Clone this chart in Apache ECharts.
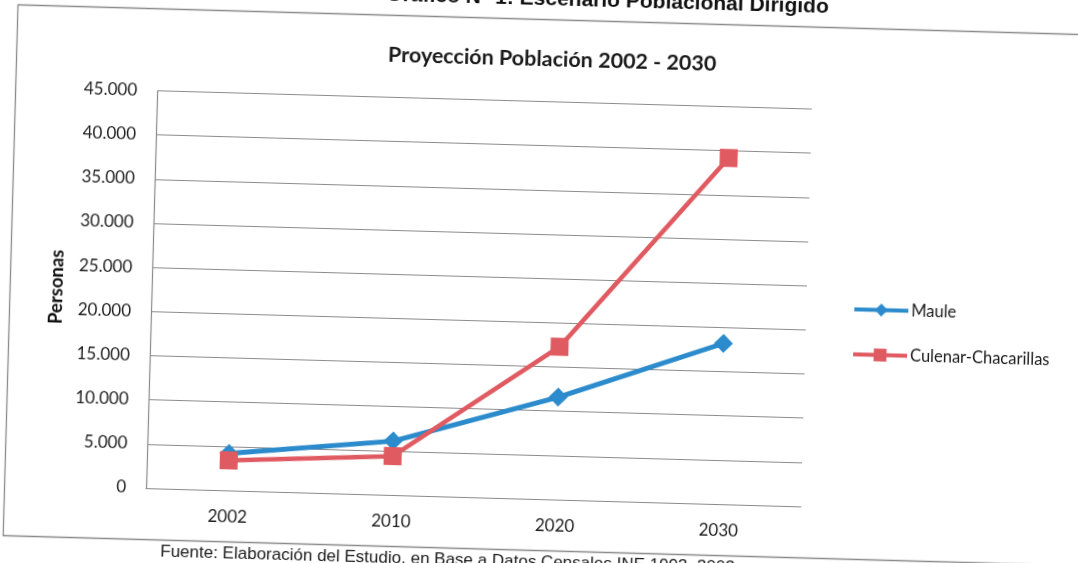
<!DOCTYPE html>
<html><head><meta charset="utf-8">
<script src="https://cdn.jsdelivr.net/npm/echarts@6/dist/echarts.min.js"></script>
<style>
html,body{margin:0;padding:0;background:#fff;overflow:hidden;width:1078px;height:563px;}
#chart{position:absolute;left:-20px;top:-20px;width:1118px;height:603px;transform:rotate(1.6deg);transform-origin:559px 301.5px;}
</style></head><body><div id="chart"></div>
<script>
const categories = ['2002', '2010', '2020', '2030'];
const mauleValues = [4200, 6100, 11600, 18200];
const culenarValues = [3400, 4400, 17300, 39200];
const seriesNames = ['Maule', 'Culenar-Chacarillas'];
const yMin = 0, yMax = 45000, yStep = 5000;
const chartTitle = 'Proyección Población 2002 - 2030';
const yAxisName = 'Personas';
const headingText = 'Gráfico N° 1: Escenario Poblacional Dirigido';
const sourceText = 'Fuente: Elaboración del Estudio, en Base a Datos Censales INE 1992, 2002';

function fmt(v) { return String(v).replace(/\B(?=(\d{3})+(?!\d))/g, '.'); }

const chart = echarts.init(document.getElementById('chart'), null, {renderer: 'canvas'});
chart.setOption({
  backgroundColor: '#ffffff',
  animation: false,
  title: {
    text: chartTitle, left: 561, top: 63, textAlign: 'center',
    textStyle: {fontFamily: 'Lato', fontWeight: 'bold', fontSize: 21.5, color: '#1a1a1a'}
  },
  graphic: [
    {type: 'rect', shape: {x: 30.5, y: 39.5, width: 1085, height: 531}, style: {fill: 'none', stroke: '#8a8a8a', lineWidth: 1.3}, silent: true, z: -1},
    {type: 'text', x: 841, y: 30, style: {text: headingText, textAlign: 'right', textVerticalAlign: 'bottom', font: 'bold 21px "Liberation Sans", Arial, sans-serif', fill: '#111'}},
    {type: 'text', x: 188, y: 582, style: {text: sourceText, textAlign: 'left', textVerticalAlign: 'middle', font: '17px "Liberation Sans", Arial, sans-serif', fill: '#1a1a1a'}}
  ],
  legend: {
    orient: 'vertical', left: 868, top: 307, itemGap: 28, itemWidth: 54, itemHeight: 16,
    data: seriesNames,
    lineStyle: {width: 4},
    textStyle: {fontFamily: 'Lato', fontSize: 16.5, color: '#1a1a1a', padding: [0, 0, 0, -2]}
  },
  grid: {left: 172, top: 121.5, width: 655, height: 397.5, containLabel: false},
  xAxis: {
    type: 'category', data: categories, boundaryGap: true,
    axisLine: {lineStyle: {color: '#8a8a8a', width: 1.2}},
    axisTick: {show: false},
    axisLabel: {margin: 18, fontFamily: 'Lato', fontSize: 17, color: '#1e1e1e'}
  },
  yAxis: {
    type: 'value', min: yMin, max: yMax, interval: yStep,
    name: yAxisName, nameLocation: 'middle', nameGap: 85, nameRotate: 90,
    nameTextStyle: {fontFamily: 'Lato', fontWeight: 'bold', fontSize: 18.5, color: '#111'},
    axisLine: {show: true, lineStyle: {color: '#8a8a8a', width: 1.2}},
    axisTick: {show: false},
    splitLine: {lineStyle: {color: '#8c8c8c', width: 1.2}},
    axisLabel: {margin: 20, fontFamily: 'Lato', fontSize: 17, color: '#1e1e1e', formatter: fmt}
  },
  series: [
    {name: seriesNames[0], type: 'line', data: mauleValues, symbol: 'diamond', symbolSize: 19,
     lineStyle: {color: '#2b8bcc', width: 5}, itemStyle: {color: '#2b8bcc'}},
    {name: seriesNames[1], type: 'line', data: culenarValues, symbol: 'rect', symbolSize: 18,
     lineStyle: {color: '#e05a61', width: 4.5}, itemStyle: {color: '#e05a61'}}
  ]
});
</script></body></html>
